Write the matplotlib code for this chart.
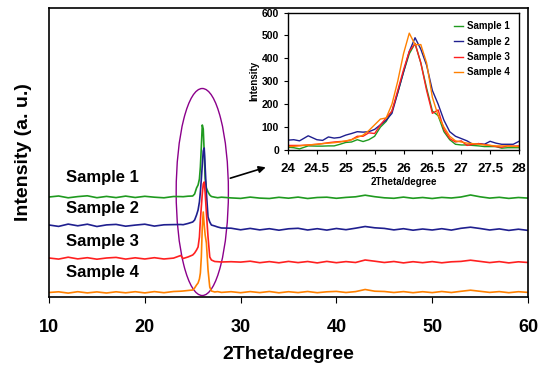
import matplotlib
matplotlib.use("Agg")
import matplotlib.pyplot as plt
from matplotlib.patches import Ellipse

plt.rcParams['font.family'] = ['Liberation Sans', 'DejaVu Sans']
plt.rcParams['font.weight'] = 'bold'

# main pattern: 2theta grid and stacked intensities (arbitrary units, offsets included)
two_theta = [10, 11, 12, 13, 14, 15, 16, 17, 18, 19, 20, 21, 22, 23, 23.75,
             24, 24.5, 25, 25.2, 25.4, 25.56, 25.7, 25.8, 25.9, 26.0, 26.1, 26.2,
             26.3, 26.43, 26.6, 26.78, 26.95, 27.3, 27.6, 28,
             29, 30, 31, 32, 33, 34, 35, 36, 37, 38, 39, 40, 41, 42, 43, 44,
             45, 46, 47, 48, 49, 50, 51, 52, 53, 54, 55, 56, 57, 58, 59, 60]
sample1 = [100, 101, 99.2, 100.4, 101.2, 99.3, 100.6, 99.4, 100.9, 99.5, 100.7, 99.8, 99.2, 100.5, 100.4,
           100.3, 100.8, 101, 103, 109, 112, 118, 130, 150, 172, 168, 145,
           118, 109, 105, 102, 100.5, 99.8, 99.3, 99.8,
           99.1, 98.6, 99.9, 98.9, 98.5, 99.7, 98.8, 99.9, 98.5, 99.5, 99.8, 98.7, 99.6, 100.2, 101.8, 100.3,
           99.2, 98.7, 99.9, 98.7, 99.5, 98.5, 99.6, 99, 100, 102, 100.2, 98.9, 99.7, 98.6, 99.5, 98.9]
sample2 = [72, 70.6, 72.9, 71.2, 72.8, 70.5, 72.1, 72.6, 70.8, 71.9, 72.8, 70.9, 72.2, 72.4, 72.5,
           72.3, 73.5, 75, 77, 82, 87, 95, 105, 118, 132, 146, 149,
           130, 104, 80, 75, 72, 71, 70, 69,
           68.8, 67.2, 68.6, 67.1, 68.3, 66.8, 68.2, 68.7, 67, 68.3, 66.9, 68.5, 67.3, 68.8, 70.5, 69.2,
           68.6, 67.1, 68.3, 66.8, 68, 67, 68.3, 66.9, 68.7, 69.8, 68.5, 67, 68.1, 66.6, 67.8, 66.6]
sample3 = [39, 37.9, 39.8, 38.1, 39.3, 37.8, 39, 39.6, 37.9, 39.2, 38, 39.3, 38, 38.9, 41.5,
           38.5, 40, 42, 44, 47, 50, 60, 77, 90, 103, 113, 115,
           104, 84, 60, 40, 37, 35.5, 35.3, 35,
           35.3, 34.9, 35.8, 34.3, 35.4, 34.2, 35.6, 34.4, 35.5, 34.1, 35.6, 34.3, 35.4, 34.5, 37, 35.8,
           34.5, 35.5, 34.1, 35.3, 34.3, 35.4, 34.2, 35.2, 35.6, 36.8, 35.6, 34.4, 35.4, 34.1, 35.2, 34.5]
sample4 = [4.5, 5.2, 3.9, 5.3, 4.1, 5.1, 4, 5.2, 4.2, 5.3, 4.1, 5.4, 4.3, 5.5, 5.8,
           6, 6.5, 7, 9, 12, 14, 18, 24, 40, 70, 85, 72,
           62, 54, 27, 10, 6, 5, 5.4, 4.6,
           5.3, 4.3, 5.4, 4.4, 5.5, 4.2, 5.3, 4.4, 5.5, 4.3, 5.2, 5.6, 4.5, 5.4, 7.5, 5.8,
           5.5, 4.5, 5.4, 4.3, 5.3, 4.4, 5.5, 4.5, 5.7, 6.8, 5.7, 4.6, 5.4, 4.3, 5.3, 4.6]

# inset: 24-28 degree region
inset_t = [24, 24.1, 24.2, 24.35, 24.5, 24.6, 24.7, 24.8, 24.9, 25.0, 25.1, 25.2, 25.3, 25.4,
           25.5, 25.6, 25.7, 25.8, 25.9, 26.0, 26.1, 26.2, 26.3, 26.4, 26.5, 26.6, 26.7,
           26.8, 26.9, 27.0, 27.1, 27.2, 27.3, 27.4, 27.5, 27.6, 27.7, 27.8, 27.9, 28]
in1 = [12, 10, 5, 18, 17, 17, 18, 18, 25, 33, 35, 45, 37, 45,
       60, 100, 125, 170, 250, 340, 420, 465, 380, 270, 170, 150, 80,
       45, 25, 22, 22, 20, 18, 15, 15, 15, 8, 10, 10, 10]
in2 = [43, 45, 40, 62, 45, 42, 57, 52, 55, 65, 72, 80, 78, 80,
       90, 110, 130, 160, 250, 340, 430, 490, 440, 370, 260, 200, 130,
       80, 60, 50, 40, 25, 28, 25, 38, 30, 25, 25, 25, 38]
in3 = [20, 20, 20, 22, 25, 28, 32, 35, 37, 38, 45, 60, 60, 75,
       72, 110, 140, 170, 260, 350, 430, 465, 380, 260, 160, 175, 90,
       50, 35, 40, 20, 25, 28, 24, 20, 15, 12, 18, 17, 18]
in4 = [15, 16, 18, 22, 25, 28, 30, 32, 35, 40, 45, 55, 65, 85,
       110, 135, 140, 200, 300, 420, 510, 460, 460, 380, 230, 150, 100,
       60, 40, 35, 30, 28, 25, 22, 20, 18, 18, 18, 16, 15]

labels = ['Sample 1', 'Sample 2', 'Sample 3', 'Sample 4']
colors = ['#1f9a1f', '#1f1f8f', '#ff2020', '#ff8000']
label_y = [119, 88, 55, 24]

fig = plt.figure(figsize=(5.38, 3.65), dpi=100)
ax = fig.add_axes([0.0911, 0.1863, 0.8903, 0.7918])
for ys, c in zip([sample1, sample2, sample3, sample4], colors):
    ax.plot(two_theta, ys, color=c, lw=1.2)
for lab, yy in zip(labels, label_y):
    ax.text(11.8, yy, lab, fontsize=12, fontweight='bold', va='center')

ax.add_patch(Ellipse((26.0, 105), width=5.45, height=207, fill=False,
                     edgecolor='#8b008b', lw=1.0))
ax.annotate('', xy=(32.9, 130.5), xytext=(28.65, 118),
            arrowprops=dict(arrowstyle='-|>', color='black', lw=1.2, mutation_scale=10))

ax.set_xlim(10, 60)
ax.set_ylim(0, 289)
ax.set_xticks([10, 20, 30, 40, 50, 60])
ax.set_yticks([])
ax.tick_params(axis='x', direction='out', length=4, labelsize=13, pad=12)
for t in ax.get_xticklabels():
    t.set_fontweight('bold')
ax.set_xlabel('2Theta/degree', fontsize=14, fontweight='bold', labelpad=7)
ax.set_ylabel('Intensity (a. u.)', fontsize=14, fontweight='bold', labelpad=12)
for s in ax.spines.values():
    s.set_linewidth(1.2)

ins = fig.add_axes([0.5353, 0.589, 0.4294, 0.3767])
for ys, c, lab in zip([in1, in2, in3, in4], colors, labels):
    ins.plot(inset_t, ys, color=c, lw=1.0, label=lab)
ins.set_xlim(24, 28)
ins.set_ylim(0, 600)
ins.set_xticks([24, 24.5, 25, 25.5, 26, 26.5, 27, 27.5, 28])
ins.set_xticklabels(['24', '24.5', '25', '25.5', '26', '26.5', '27', '27.5', '28'])
ins.set_yticks([0, 100, 200, 300, 400, 500, 600])
ins.tick_params(direction='out', length=3)
ins.tick_params(axis='y', labelsize=7.5)
ins.tick_params(axis='x', labelsize=9.5, pad=6)
for t in ins.get_xticklabels() + ins.get_yticklabels():
    t.set_fontweight('bold')
ins.set_xlabel('2Theta/degree', fontsize=7, fontweight='bold', labelpad=2)
ins.set_ylabel('Intensity', fontsize=7, fontweight='bold', labelpad=2)
for s in ins.spines.values():
    s.set_linewidth(1.0)
ins.legend(loc='upper right', frameon=False, handlelength=1.0,
           handletextpad=0.4, labelspacing=0.55, prop={'weight': 'bold', 'size': 7})

fig.savefig('out.png', dpi=100)
